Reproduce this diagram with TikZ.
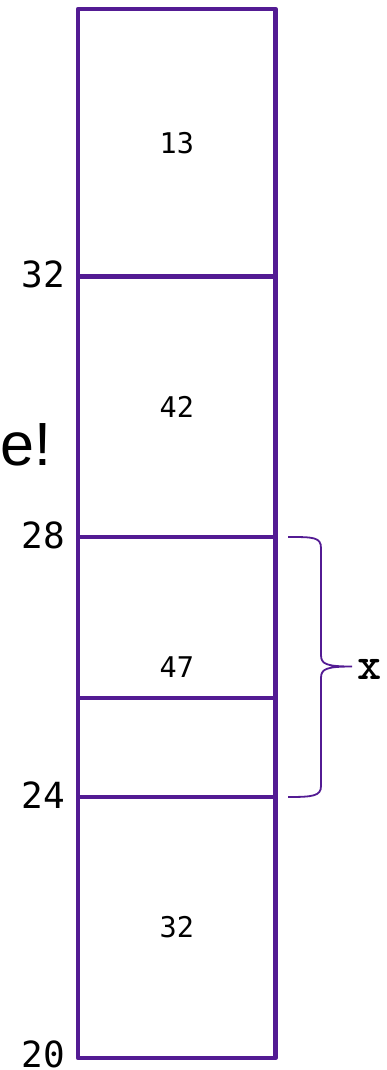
\documentclass[tikz,border=0pt]{standalone}
\usepackage{fontspec}
\setmainfont{Liberation Sans}
\newfontfamily\cellfont{DejaVu Sans Mono}
\usetikzlibrary{positioning, calc}
\definecolor{grape}{HTML}{531B93}

\begin{document}
\begin{tikzpicture}[
        x=1pt, y=-1pt,
        cell/.style={rectangle, draw=grape, line width=4.5pt, line join=round, outer sep=0pt, inner sep=0pt, minimum width=197.5pt, font=\cellfont\fontsize{28.5}{28.5}\selectfont},
        value/.style={inner sep=0pt, font=\cellfont\fontsize{28.5}{28.5}\selectfont},
        addr/.style={anchor=east, inner sep=0pt, font=\cellfont\fontsize{36}{36}\selectfont},
        brace/.style={draw=grape, line width=1.8pt}
    ]
        \useasboundingbox (0,0) rectangle (386,1070);
        \clip (0,0) rectangle (386,1070);

        % Stack cells
        \node[cell, minimum height=267.5pt, anchor=north west] (c1) at (78,9) {13};
        \node[cell, minimum height=260.5pt, below=0pt of c1] (c2) {42};
        \node[cell, minimum height=161pt, below=0pt of c2] (c3) {};
        \node[cell, minimum height=99pt, below=0pt of c3] (c4) {};
        \node[cell, minimum height=261pt, below=0pt of c4] (c5) {32};
        \node[value] (v47) at ($(c3.north)!0.5!(c4.south)$) {47};

        % Addresses
        \node[addr] (a32) at ([xshift=-13pt, yshift=2pt]c2.north west) {32};
        \node[addr] (a28) at ([xshift=-13pt, yshift=2pt]c3.north west) {28};
        \node[addr] (a24) at ([xshift=-13pt, yshift=2pt]c5.north west) {24};
        \node[addr] (a20) at ([xshift=-13pt, yshift=4pt]c5.south west) {20};

        % Cut-off text on the left
        \node[anchor=base east, inner sep=0pt, font=\fontsize{61}{61}\selectfont] (tag) at (52,465) {e!};

        % Brace over x
        \coordinate (btop) at ([xshift=12.5pt]c3.north east);
        \coordinate (bbot) at ([xshift=12.5pt]c5.north east);
        \coordinate (btip) at (352,666.5);
        \draw[brace] (btop) .. controls (313,537) and (321,537) .. (321,548) -- (321,655)
            .. controls (321,664) and (326,666.5) .. (btip)
            .. controls (326,666.5) and (321,669) .. (321,678) -- (321,786)
            .. controls (321,796) and (313,797) .. (bbot);
        \node[anchor=west, inner sep=0pt, font=\ttfamily\bfseries\fontsize{46}{46}\selectfont] (xlab) at (357,669) {x};
    \end{tikzpicture}
\end{document}
